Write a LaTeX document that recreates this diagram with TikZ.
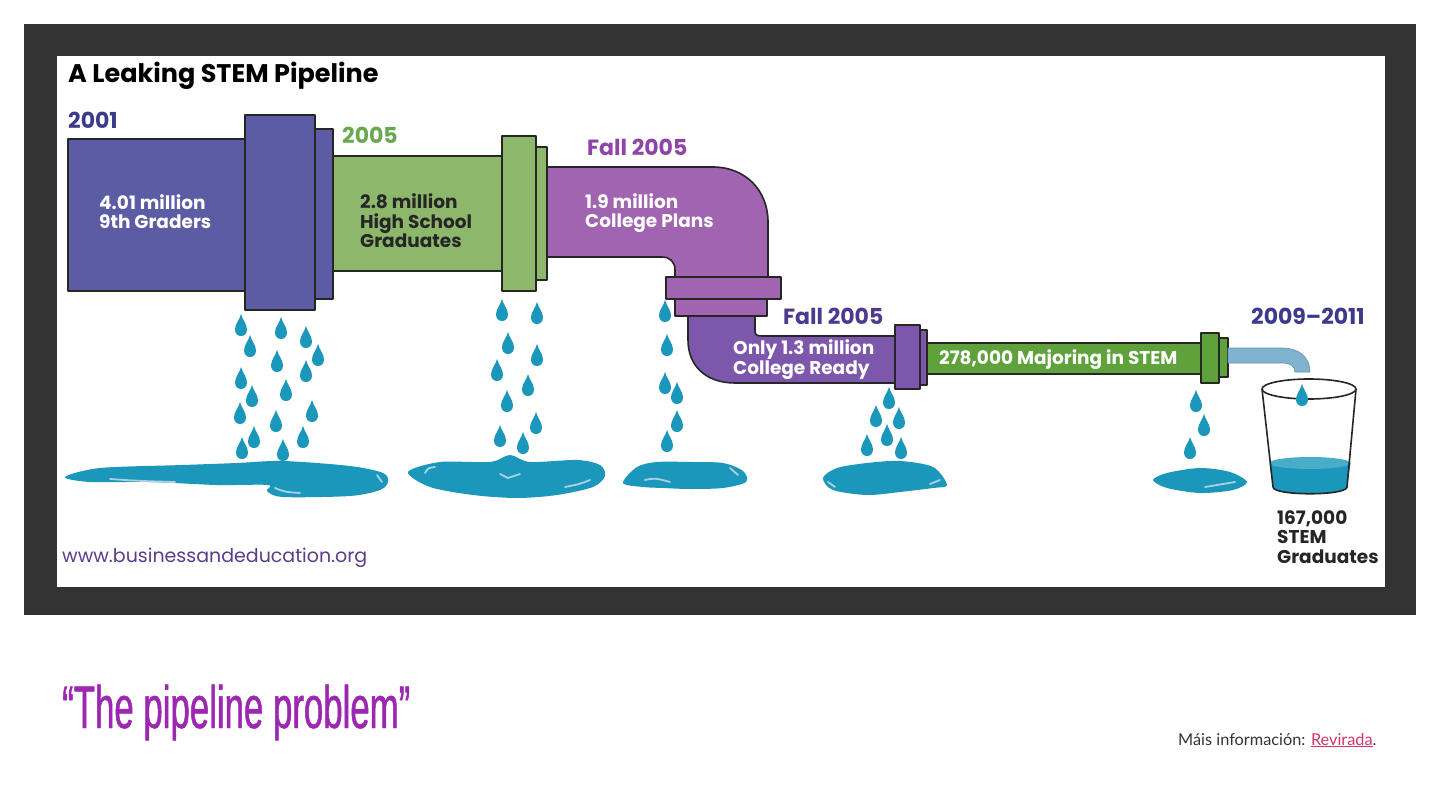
\documentclass[tikz,border=0pt]{standalone}
\usepackage{fontspec}
\setmainfont{Poppins}
\newfontfamily\quotefont{Liberation Sans}[FakeStretch=0.58, FakeBold=0.8]
\newfontfamily\notefont{Lato}
\definecolor{frame}{HTML}{333333}
\definecolor{outline}{HTML}{262626}
\definecolor{blue9}{RGB}{92,92,165}
\definecolor{greenhs}{RGB}{141,184,107}
\definecolor{purplecp}{RGB}{160,100,176}
\definecolor{violetcr}{RGB}{125,87,171}
\definecolor{greenst}{RGB}{95,162,60}
\definecolor{tap}{RGB}{127,179,208}
\definecolor{water}{RGB}{27,151,187}
\definecolor{shinewater}{RGB}{170,208,226}
\definecolor{navy}{RGB}{60,58,138}
\definecolor{leaf}{RGB}{106,168,79}
\definecolor{plum}{RGB}{142,68,168}
\definecolor{indigo}{RGB}{75,58,142}
\definecolor{weblink}{RGB}{90,61,140}
\definecolor{magenta}{RGB}{156,39,176}
\definecolor{pinklink}{RGB}{214,51,108}
\tikzset{
  pipe/.style={draw=outline, line width=1.6},
  year/.style={font=\bfseries\fontsize{22}{26}\selectfont, inner sep=0, anchor=base west},
  pipetext/.style={font=\bfseries\fontsize{18.5}{19.5}\selectfont, align=left, inner sep=0, anchor=base west},
  shine/.style={draw=shinewater, line width=1.8, line cap=round},
  drip/.pic={\fill[water] (0,-13) .. controls (1.5,-7) and (6,-3) .. (6,2.5)
     .. controls (6,6.5) and (3.3,9) .. (0,9) .. controls (-3.3,9) and (-6,6.5) .. (-6,2.5)
     .. controls (-6,-3) and (-1.5,-7) .. (0,-13) -- cycle;}
}
\begin{document}
\begin{tikzpicture}[x=1pt, y=-1pt, line join=round]
\useasboundingbox (0,0) rectangle (1440,810);
\fill[white] (0,0) rectangle (1440,810);
\fill[frame] (24,24) rectangle (1416,615);
\fill[white] (57,56) rectangle (1385,587);
\node[font=\bfseries\fontsize{25.5}{30}\selectfont, inner sep=0, anchor=base west] (title) at (68,83) {A Leaking STEM Pipeline};
% pipes
\draw[pipe, fill=blue9] (68,139) rectangle (245,291);
\draw[pipe, fill=blue9] (245,115) rectangle (315,310);
\draw[pipe, fill=blue9] (315,129) rectangle (333,299);
\draw[pipe, fill=greenhs] (333,156) rectangle (502,271);
\draw[pipe, fill=greenhs] (502,136) rectangle (536,291);
\draw[pipe, fill=greenhs] (536,147) rectangle (547,280);
\draw[pipe, fill=purplecp] (547,167) -- (713,167) .. controls (745,167) and (768,190) .. (768,222)
  -- (768,277) -- (675,277) -- (675,270) .. controls (675,262) and (670,257) .. (662,257) -- (547,257) -- cycle;
\draw[pipe, fill=violetcr] (688,316) -- (755,316) -- (755,331) .. controls (755,335) and (757,336) .. (762,336)
  -- (895,336) -- (895,383) -- (735,383) .. controls (705,383) and (688,365) .. (688,340) -- cycle;
\draw[pipe, fill=purplecp] (666,277) rectangle (781,299);
\draw[pipe, fill=purplecp] (675,299) rectangle (767,316);
\draw[pipe, fill=greenst] (927,343) rectangle (1201,374);
\draw[pipe, fill=violetcr] (895,325) rectangle (920,389);
\draw[pipe, fill=violetcr] (920,330) rectangle (927,385);
\draw[pipe, fill=greenst] (1201,333) rectangle (1219,383);
\draw[pipe, fill=greenst] (1219,338) rectangle (1228,377);
\draw[fill=tap, draw=tap!80!black, line width=0.6] (1228,348) -- (1282,348) .. controls (1300,348) and (1310,358) .. (1310,372)
  -- (1295,372) .. controls (1295,366) and (1290,363) .. (1282,363) -- (1228,363) -- cycle;
% glass
\fill[water] (1269.5,463) -- (1273,487) .. controls (1273,496) and (1347,496) .. (1347,487) -- (1350.5,463) -- cycle;
\fill[water!80!white] (1310,463) ellipse [x radius=40.5pt, y radius=6pt];
\draw[outline, line width=1.6] (1262,389) -- (1273,487) .. controls (1273,496) and (1347,496) .. (1347,487) -- (1356,389);
\draw[outline, line width=1.6] (1309,389) ellipse [x radius=47pt, y radius=10pt];
% drops
\foreach \x/\y in {241/327,281/330,306/339,250/348,318/357,277/363,306/373,241/380,286/392,252/398,
  312/413,240/415,276/423,254/439,303/439,242/450,283/452,
  502/312,537/315,508/345,537/357,497/372,528/387,507/403,536/425,500/438,523/445,
  665/313,667/347,665/385,677/395,677/423,667/443,
  889/400,876/418,899/420,887/437,867/447,901/450,
  1196/403,1204/427,1190/450,1302/397}
  \pic at (\x,\y) {drip};
% puddles
\fill[water] plot[smooth cycle] coordinates {(65,477) (100,468) (183,465) (237,463) (283,461) (350,466)
  (383,473) (388,482) (380,490) (350,496) (283,497) (267,491) (268,485) (217,485) (150,482) (90,482)};
\fill[water] plot[smooth cycle] coordinates {(408,472) (440,462) (490,462) (510,455) (530,462) (577,460)
  (600,465) (605,476) (593,487) (557,495) (517,498) (473,495) (430,487)};
\fill[water] plot[smooth cycle] coordinates {(623,483) (637,467) (657,462) (690,462) (723,463) (743,471)
  (746,482) (723,488) (690,489) (663,488) (643,487)};
\fill[water] plot[smooth cycle] coordinates {(823,478) (837,468) (867,463) (900,461) (933,467) (947,485)
  (933,488) (900,492) (867,495) (833,490)};
\fill[water] plot[smooth cycle] coordinates {(1153,480) (1167,473) (1200,468) (1230,472) (1247,482)
  (1233,490) (1200,493) (1167,488)};
\draw[shine] (110,479) .. controls (140,481) .. (175,482);
\draw[shine] (275,488) .. controls (285,492) .. (300,493);
\draw[shine] (377,475) -- (382,482);
\draw[shine] (425,473) .. controls (428,468) .. (435,467);
\draw[shine] (500,474) -- (508,478) -- (520,474);
\draw[shine] (565,487) .. controls (580,484) .. (590,480);
\draw[shine] (645,480) .. controls (655,478) .. (670,482);
\draw[shine] (730,468) -- (738,475);
\draw[shine] (828,482) -- (835,487);
\draw[shine] (930,484) -- (940,480);
\draw[shine] (1205,487) .. controls (1220,485) .. (1235,482);
% labels
\node[year, navy] (yr2001) at (68,129) {2001};
\node[year, leaf] (yr2005) at (342,144) {2005};
\node[year, plum] (fallplans) at (587,156) {Fall 2005};
\node[year, indigo] (fallready) at (783,324) {Fall 2005};
\node[year, navy] (yrgrad) at (1251,324) {2009–2011};
\node[pipetext, white] (grade9) at (99,229) {4.01 million\\9th Graders};
\node[pipetext, black!85] (highschool) at (360,248) {2.8 million\\High School\\Graduates};
\node[pipetext, white] (plans) at (585,228) {1.9 million\\College Plans};
\node[pipetext, white] (ready) at (733,374) {Only 1.3 million\\College Ready};
\node[pipetext, white] (major) at (939,364) {278,000 Majoring in STEM};
\node[pipetext, black!85] (stemgrad) at (1277,563) {167,000\\STEM\\Graduates};
\node[font=\fontsize{19}{22}\selectfont, weblink, inner sep=0, anchor=base west] (site) at (62,562) {www.businessandeducation.org};
\node[font=\quotefont\fontsize{60}{70}\selectfont, magenta, inner sep=0, anchor=base west] (heading) at (62,728) {“The pipeline problem”};
\node[font=\notefont\fontsize{16.3}{19}\selectfont, frame, inner sep=0, anchor=base west] (note) at (1178,745)
  {Máis información: \textcolor{pinklink}{\underline{Revirada}}.};
\end{tikzpicture}
\end{document}
